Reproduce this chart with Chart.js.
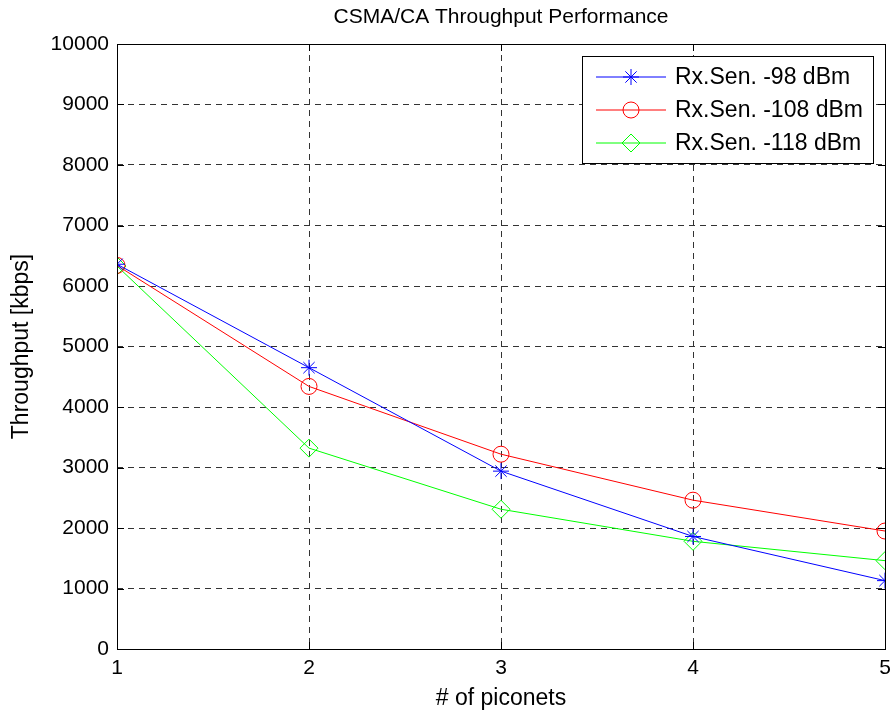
<!DOCTYPE html>
<html>
<head>
<meta charset="utf-8">
<script src="https://cdn.jsdelivr.net/npm/chart.js@4.4.0/dist/chart.umd.min.js"></script>
<style>
  html, body { margin: 0; padding: 0; background: #fff; }
  #wrap { width: 892px; height: 715px; }
</style>
</head>
<body>
<div id="wrap"><canvas id="tputChart"></canvas></div>
<script>
const piconets = [1, 2, 3, 4, 5];
const rx98 = [6360, 4650, 2940, 1860, 1130];
const rx108 = [6340, 4340, 3220, 2460, 1950];
const rx118 = [6330, 3320, 2310, 1780, 1460];
const seriesLabels = ["Rx.Sen. -98 dBm", "Rx.Sen. -108 dBm", "Rx.Sen. -118 dBm"];
const yTicks = [0, 1000, 2000, 3000, 4000, 5000, 6000, 7000, 8000, 9000, 10000];

const FONT = "'Liberation Sans', Arial, Helvetica, sans-serif";

function toPoints(vals) {
  return piconets.map((x, i) => ({ x: x, y: vals[i] }));
}

// box around the axes, inner tick marks, title and a matlab-style legend
const matlabFrame = {
  id: "matlabFrame",
  afterDraw(chart) {
    const { ctx, chartArea: a, scales } = chart;
    ctx.save();
    ctx.strokeStyle = "#000";
    ctx.lineWidth = 1;
    ctx.strokeRect(a.left + 0.5, a.top + 0.5, a.right - a.left, a.bottom - a.top);

    // tick marks on the inside of all four sides
    const tl = 7;
    ctx.beginPath();
    piconets.forEach(v => {
      const px = Math.round(scales.x.getPixelForValue(v)) + 0.5;
      ctx.moveTo(px, a.bottom); ctx.lineTo(px, a.bottom - tl);
      ctx.moveTo(px, a.top); ctx.lineTo(px, a.top + tl);
    });
    yTicks.forEach(v => {
      const py = Math.round(scales.y.getPixelForValue(v)) + 0.5;
      ctx.moveTo(a.left, py); ctx.lineTo(a.left + tl, py);
      ctx.moveTo(a.right, py); ctx.lineTo(a.right - tl, py);
    });
    ctx.stroke();

    // title
    ctx.fillStyle = "#000";
    ctx.font = "21px " + FONT;
    ctx.textAlign = "center";
    ctx.textBaseline = "middle";
    ctx.fillText("CSMA/CA Throughput Performance", (a.left + a.right) / 2, 17);

    // legend
    const bx = 582, by = 56, bw = 291, bh = 107;
    ctx.fillStyle = "#fff";
    ctx.fillRect(bx, by, bw, bh);
    ctx.strokeStyle = "#000";
    ctx.strokeRect(bx + 0.5, by + 0.5, bw, bh);
    ctx.font = "23px " + FONT;
    ctx.textAlign = "left";
    chart.data.datasets.forEach((ds, i) => {
      const y = by + 21 + i * 33;
      ctx.strokeStyle = ds.borderColor;
      ctx.beginPath();
      ctx.moveTo(596, y); ctx.lineTo(666, y);
      ctx.stroke();
      ctx.fillStyle = "rgba(0,0,0,0)";
      Chart.helpers.drawPoint(ctx, {
        pointStyle: ds.pointStyle, radius: ds.pointRadius, borderWidth: 1
      }, 631, y);
      ctx.fillStyle = "#000";
      ctx.fillText(ds.label, 675, y + 1);
    });
    ctx.restore();
  }
};

function series(label, vals, color, style, r) {
  return {
    label: label,
    data: toPoints(vals),
    borderColor: color,
    backgroundColor: "rgba(0,0,0,0)",
    borderWidth: 1,
    pointStyle: style,
    pointRadius: r,
    pointHoverRadius: r,
    pointBorderWidth: 1,
    pointBackgroundColor: "rgba(0,0,0,0)",
    tension: 0,
  };
}

new Chart(document.getElementById("tputChart"), {
  type: "line",
  data: {
    datasets: [
      series(seriesLabels[0], rx98, "#0000ff", "star", 8),
      series(seriesLabels[1], rx108, "#ff0000", "circle", 8),
      series(seriesLabels[2], rx118, "#00ff00", "rectRot", 9),
    ],
  },
  options: {
    responsive: true,
    maintainAspectRatio: false,
    animation: false,
    events: [],
    layout: { autoPadding: false, padding: { top: 44, right: 7, left: 0, bottom: 0 } },
    plugins: { legend: { display: false }, title: { display: false }, tooltip: { enabled: false } },
    scales: {
      x: {
        type: "linear",
        min: 1,
        max: 5,
        afterFit: s => { s.height = 66; s.paddingLeft = 0; s.paddingRight = 0; },
        ticks: { stepSize: 1, color: "#000", padding: 7, font: { family: FONT, size: 21 } },
        grid: { color: "#333", lineWidth: 1, drawTicks: false },
        border: { display: false, dash: [6, 5] },
        title: { display: true, text: "# of piconets", color: "#000", padding: { top: 0, bottom: 3 }, font: { family: FONT, size: 23 } },
      },
      y: {
        min: 0,
        max: 10000,
        afterFit: s => { s.width = 117; s.paddingTop = 0; s.paddingBottom = 0; },
        afterBuildTicks: s => { s.ticks = yTicks.map(v => ({ value: v })); },
        ticks: { color: "#000", padding: 8, font: { family: FONT, size: 21 }, callback: v => String(v) },
        grid: { color: "#333", lineWidth: 1, drawTicks: false },
        border: { display: false, dash: [6, 5] },
        title: { display: true, text: "Throughput [kbps]", color: "#000", padding: { top: 8, bottom: 0 }, font: { family: FONT, size: 23 } },
      },
    },
  },
  plugins: [matlabFrame],
});
</script>
</body>
</html>
